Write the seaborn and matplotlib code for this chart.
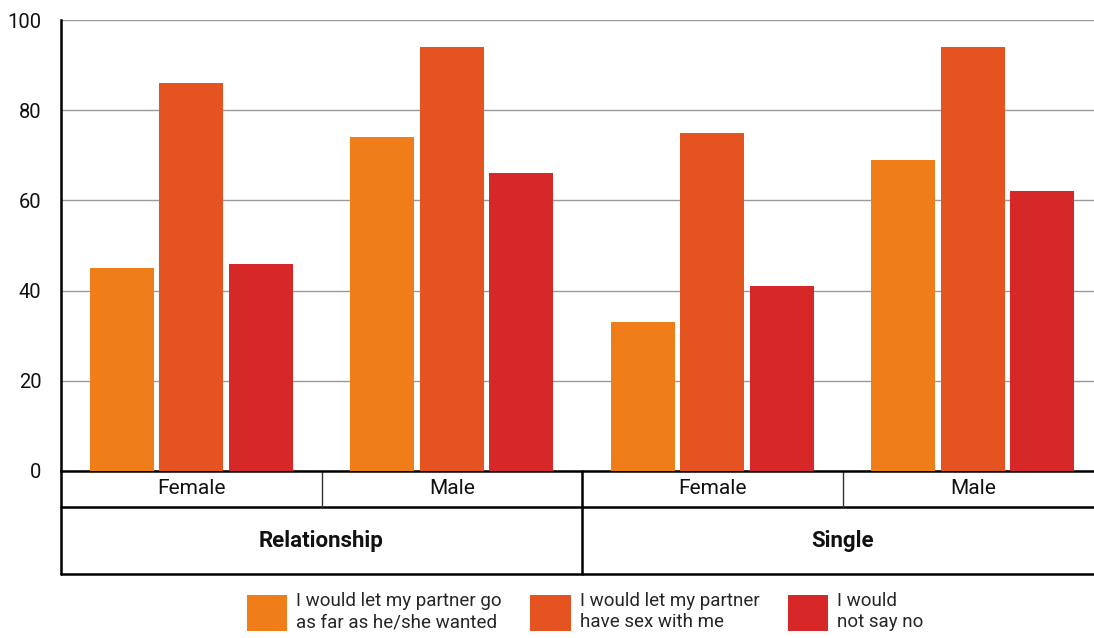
import matplotlib
matplotlib.use("Agg")
import matplotlib.pyplot as plt
import seaborn as sns
import pandas as pd
from matplotlib.patches import Patch

groups = ["Relationship", "Single"]
genders = ["Female", "Male"]
series = ["I would let my partner go\nas far as he/she wanted",
          "I would let my partner\nhave sex with me",
          "I would\nnot say no"]
go_far = [45, 74, 33, 69]
have_sex = [86, 94, 75, 94]
not_no = [46, 66, 41, 62]
colors = ["#EE7D1A", "#E55420", "#D62828"]
yticks = [0, 20, 40, 60, 80, 100]

cats = [f"{g}|{s}" for g in groups for s in genders]
rows = []
for vals, name in zip([go_far, have_sex, not_no], series):
    for c, v in zip(cats, vals):
        rows.append({"cat": c, "series": name, "value": v})
df = pd.DataFrame(rows)

sns.set_theme(style="white")
plt.rcParams["font.family"] = ["Roboto", "DejaVu Sans"]

fig = plt.figure(figsize=(10.94, 6.38), dpi=100)
ax = fig.add_axes([61/1094, 1-471/638, 1042/1094, 451/638])

sns.barplot(data=df, x="cat", y="value", hue="series", order=cats,
            hue_order=series, palette=colors, width=0.8, gap=0.08,
            saturation=1, ax=ax, legend=False, zorder=3, linewidth=0)

ax.set_ylim(0, 100)
ax.set_xlim(-0.5, 3.5)
ax.set_yticks(yticks)
ax.set_yticklabels([str(t) for t in yticks], fontsize=14.5, color="#111111")
ax.tick_params(axis="y", length=0, pad=14)
ax.set_xticks([])
ax.set_xlabel("")
ax.set_ylabel("")
ax.grid(axis="y", color="#9a9a9a", linewidth=1, zorder=0)
for s in ["top", "right"]:
    ax.spines[s].set_visible(False)
ax.spines["left"].set_color("black")
ax.spines["left"].set_linewidth(1.8)
ax.spines["bottom"].set_color("black")
ax.spines["bottom"].set_linewidth(1.8)

# category table below axis
tr = ax.get_xaxis_transform()
r1 = -36/451
r2 = -103/451
ax.plot([-0.5, 3.6], [r1, r1], transform=tr, color="black", lw=1.8, clip_on=False)
ax.plot([-0.5, 3.6], [r2, r2], transform=tr, color="black", lw=1.8, clip_on=False)
ax.plot([-0.5, -0.5], [0, r2], transform=tr, color="black", lw=1.8, clip_on=False)
ax.plot([1.5, 1.5], [0, r2], transform=tr, color="black", lw=1.8, clip_on=False)
for xv in [0.5, 2.5]:
    ax.plot([xv, xv], [0, r1], transform=tr, color="#333333", lw=1.0, clip_on=False)
for i, c in enumerate(cats):
    ax.text(i, r1/2, c.split("|")[1], transform=tr, ha="center", va="center",
            fontsize=15, color="#111111")
for j, g in enumerate(groups):
    ax.text(0.5 + 2*j, (r1+r2)/2, g, transform=tr, ha="center", va="center",
            fontsize=16, fontweight="bold", color="#111111")

handles = [Patch(facecolor=c, edgecolor="none") for c in colors]
fig.legend(handles, series, loc="lower center", bbox_to_anchor=(0.535, -0.016),
           ncol=3, frameon=False, fontsize=13.5, handlelength=2.15,
           handleheight=2.6, columnspacing=1.5, handletextpad=0.5,
           labelspacing=0.2)

fig.savefig("out.png", dpi=100)
